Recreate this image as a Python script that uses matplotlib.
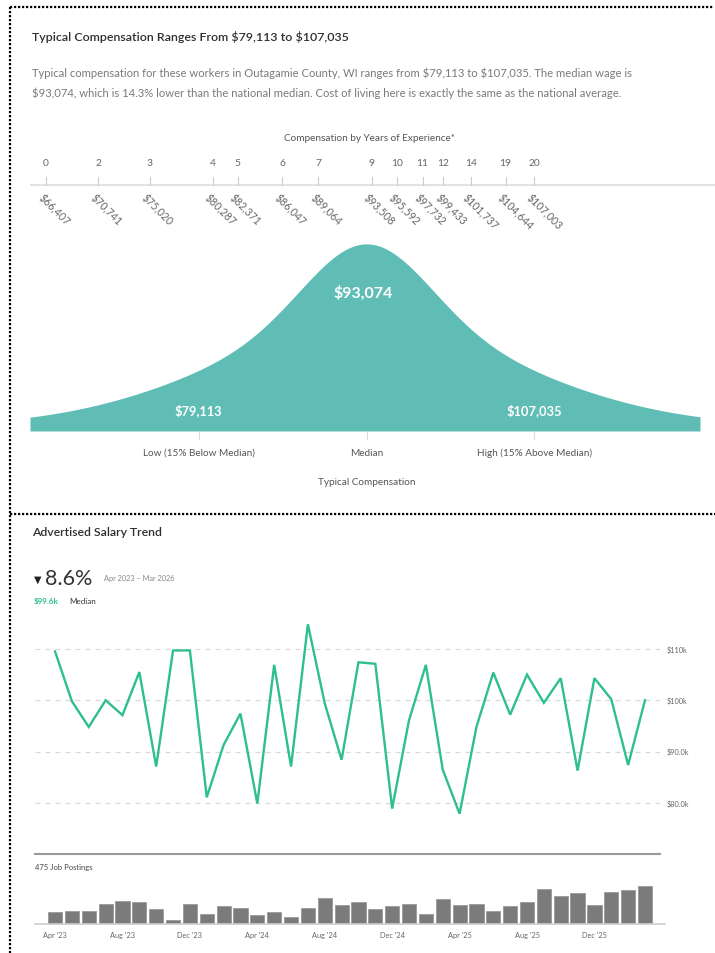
import numpy as np
import matplotlib
matplotlib.use("Agg")
import matplotlib.pyplot as plt
from matplotlib.lines import Line2D

plt.rcParams['font.family'] = ['Lato', 'DejaVu Sans']

# ---------------- data ----------------
title_top = "Typical Compensation Ranges From $79,113 to $107,035"
desc_lines = [
    "Typical compensation for these workers in Outagamie County, WI ranges from $79,113 to $107,035. The median wage is",
    "$93,074, which is 14.3% lower than the national median. Cost of living here is exactly the same as the national average.",
]
years = [0, 2, 3, 4, 5, 6, 7, 9, 10, 11, 12, 14, 19, 20]
year_pay = [66407, 70741, 75020, 80287, 82371, 86047, 89064, 93508, 95592,
            97732, 99433, 101737, 104644, 107003]
low_pay, median_pay, high_pay = 79113, 93074, 107035
range_labels = ["Low (15% Below Median)", "Median", "High (15% Above Median)"]

months = ["Apr '23", "May '23", "Jun '23", "Jul '23", "Aug '23", "Sep '23", "Oct '23", "Nov '23",
          "Dec '23", "Jan '24", "Feb '24", "Mar '24", "Apr '24", "May '24", "Jun '24", "Jul '24",
          "Aug '24", "Sep '24", "Oct '24", "Nov '24", "Dec '24", "Jan '25", "Feb '25", "Mar '25",
          "Apr '25", "May '25", "Jun '25", "Jul '25", "Aug '25", "Sep '25", "Oct '25", "Nov '25",
          "Dec '25", "Jan '26", "Feb '26", "Mar '26"]
salary = [109.5, 99.8, 94.8, 100.0, 97.1, 105.5, 87.1, 109.7, 109.7, 81.1, 91.3, 97.4,
          79.9, 106.9, 87.1, 114.8, 99.4, 88.4, 107.4, 107.1, 78.9, 96.1, 106.9, 86.5,
          77.9, 94.8, 105.4, 97.2, 105.0, 99.5, 104.3, 86.3, 104.3, 100.2, 87.4, 100.0]
salary = [v * 1000 for v in salary]
postings = [8, 9, 9, 14, 16, 15, 10, 3, 14, 7, 12, 11, 6, 8, 5, 11, 18, 13, 15, 10, 12, 14,
            7, 17, 13, 14, 9, 12, 15, 24, 19, 21, 13, 22, 23, 26]
y_grid = [80000, 90000, 100000, 110000]
y_grid_labels = ["$80.0k", "$90.0k", "$100k", "$110k"]

# ---------------- figure ----------------
W, H = 715, 954
fig = plt.figure(figsize=(W / 100, H / 100), dpi=100)
fig.patch.set_facecolor("white")


def px_axes(x0, y0, x1, y1):
    """Axes from pixel box (top-left origin)."""
    return fig.add_axes([x0 / W, 1 - y1 / H, (x1 - x0) / W, (y1 - y0) / H])


def ftext(x, y, s, **kw):
    fig.text(x / W, 1 - y / H, s, parse_math=False, **kw)


# dotted panel borders
dot = dict(color="black", linewidth=1.6, linestyle=(0, (1, 0.8)), transform=fig.transFigure)
fig.add_artist(Line2D([10 / W, 713 / W], [1 - 8 / H, 1 - 8 / H], **dot))
fig.add_artist(Line2D([10 / W, 10 / W], [1 - 8 / H, 0], **dot))
fig.add_artist(Line2D([10 / W, 1.0], [1 - 515 / H, 1 - 515 / H], **dot))

# ---------------- top panel texts ----------------
ftext(32, 37, title_top, fontsize=8.9, color="#2e2e2e", va="center", ha="left",
      fontweight="semibold")
ftext(32, 73, desc_lines[0], fontsize=8.1, color="#7a7a7a", va="center", ha="left")
ftext(32, 93, desc_lines[1], fontsize=8.1, color="#7a7a7a", va="center", ha="left")
ftext(370, 139, "Compensation by Years of Experience*", fontsize=7.2, color="#555555",
      va="center", ha="center")

# common dollar -> pixel scale
k = 0.01202  # px per dollar
x_at = lambda px: 66407 + (px - 46) / k

# years axis
axy = px_axes(30, 150, 715, 230)
axy.set_xlim(x_at(30), x_at(715))
axy.set_ylim(-44, 36)
axy.axis("off")
axy.axhline(0, color="#e2e2e2", linewidth=1.5)
for yr, pay in zip(years, year_pay):
    axy.plot([pay, pay], [0, 8], color="#cccccc", linewidth=0.8)
    axy.text(pay, 23, str(yr), fontsize=7.4, color="#666666", ha="center", va="center")
    axy.text(pay - 200, -6, f"${pay:,}", fontsize=7.6, color="#666666", rotation=-45,
             rotation_mode="anchor", ha="left", va="top", parse_math=False)

# bell curve
axb = px_axes(30, 240, 700, 432)
axb.set_xlim(x_at(30), x_at(700))
xs = np.linspace(x_at(30), x_at(700), 600)
sig_n = 61 / k
sig_b = 154 / k
shape = 87 * np.exp(-(xs - median_pay) ** 2 / (2 * sig_n ** 2)) + \
    100 * np.exp(-(xs - median_pay) ** 2 / (2 * sig_b ** 2)) + 5
axb.fill_between(xs, 0, shape, color="#5fbdb6", linewidth=0)
axb.set_ylim(0, 197)
axb.axis("off")
axb.text(median_pay - 250, 142, f"${median_pay:,}", color="white", fontsize=11.5,
         fontweight="bold", ha="center", va="center", parse_math=False)
axb.text(low_pay, 22, f"${low_pay:,}", color="white", fontsize=9.3, fontweight="bold",
         ha="center", va="center", parse_math=False)
axb.text(high_pay, 22, f"${high_pay:,}", color="white", fontsize=9.3, fontweight="bold",
         ha="center", va="center", parse_math=False)

# range ticks and labels
axr = px_axes(30, 432, 700, 500)
axr.set_xlim(x_at(30), x_at(700))
axr.set_ylim(68, 0)
axr.axis("off")
for pay, lab in zip([low_pay, median_pay, high_pay], range_labels):
    axr.plot([pay, pay], [0, 8], color="#dddddd", linewidth=0.8)
    axr.text(pay, 21, lab, fontsize=7.2, color="#555555", ha="center", va="center")
axr.text(median_pay, 51, "Typical Compensation", fontsize=7.2, color="#555555",
         ha="center", va="center")

# ---------------- bottom panel ----------------
ftext(32, 533, "Advertised Salary Trend", fontsize=8.8, color="#2e2e2e", va="center", ha="left",
      fontweight="semibold")
ftext(34, 580, "\u25BC", fontsize=7, color="#222222", va="center", ha="left",
      family=["DejaVu Sans"])
ftext(45, 579, "8.6%", fontsize=15.5, color="#333333", va="center", ha="left")
ftext(104, 579, "Apr 2023 \u2013 Mar 2026", fontsize=5.3, color="#888888", va="center", ha="left")
ftext(34, 601, "$99.6k", fontsize=5.8, color="#2dbf8d", va="center", ha="left", fontweight="bold")
ftext(69, 601, "Median", fontsize=5.8, color="#333333", va="center", ha="left")

xi = np.arange(len(salary))
xlim = (-1.19, 35.89)

axl = px_axes(35, 615, 660, 855)
axl.plot(xi, salary, color="#2dbf8d", linewidth=1.7, solid_joinstyle="miter")
axl.set_xlim(*xlim)
axl.set_ylim(70060, 116800)
for g in y_grid:
    axl.axhline(g, color="#d9d9d9", linewidth=0.9, linestyle=(0, (4, 4)), zorder=0)
for g, lab in zip(y_grid, y_grid_labels):
    axl.text(1.01, g, lab, transform=axl.get_yaxis_transform(), fontsize=5.3,
             color="#666666", ha="left", va="center", parse_math=False)
for sp in axl.spines.values():
    sp.set_visible(False)
axl.spines["bottom"].set_visible(True)
axl.spines["bottom"].set_color("#999999")
axl.spines["bottom"].set_linewidth(1.5)
axl.set_xticks([])
axl.set_yticks([])

ftext(35, 868, "475 Job Postings", fontsize=5.5, color="#444444", va="center", ha="left")
axp = px_axes(35, 880, 665, 925)
axp.bar(xi, postings, width=0.84, color="#7b7b7b", edgecolor="#9a9a9a", linewidth=0.6)
axp.set_xlim(xlim[0], xlim[1] + 5 / 16.86)
axp.set_ylim(0, 45 / 1.46)
for sp in axp.spines.values():
    sp.set_visible(False)
axp.spines["bottom"].set_visible(True)
axp.spines["bottom"].set_color("#cccccc")
axp.spines["bottom"].set_linewidth(1.2)
axp.set_yticks([])
tick_idx = list(range(0, 36, 4))
axp.set_xticks(tick_idx)
axp.set_xticklabels([months[i] for i in tick_idx], fontsize=5.3, color="#666666")
axp.tick_params(axis="x", length=0, pad=5)

fig.savefig("out.png", dpi=100, facecolor="white")
